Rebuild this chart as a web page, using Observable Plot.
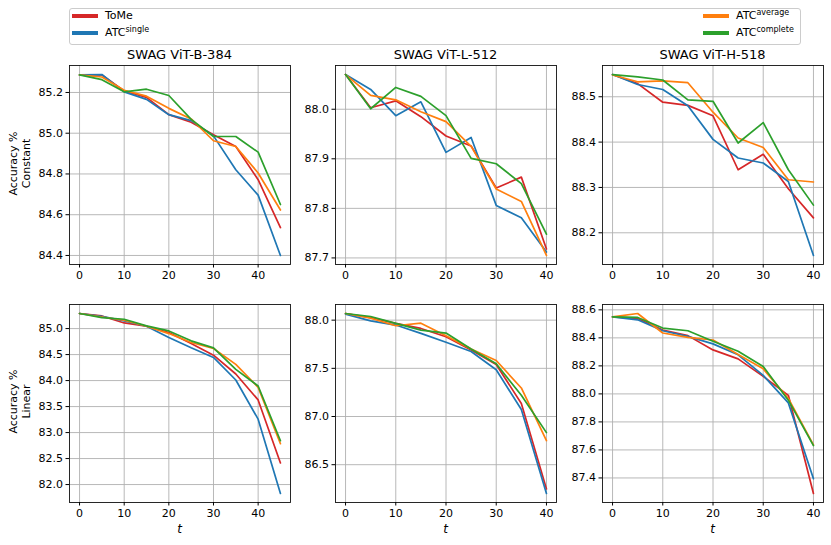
<!DOCTYPE html>
<html><head><meta charset="utf-8">
<script src="https://cdn.jsdelivr.net/npm/d3@7"></script>
<script src="https://cdn.jsdelivr.net/npm/@observablehq/plot@0.6"></script>
<style>
body{margin:0;background:#fff;font-family:"DejaVu Sans",sans-serif;color:#000}
#root{position:relative;width:831px;height:545px;overflow:hidden;background:#fff}
.abs{position:absolute}
.panel svg{max-width:none!important;background:transparent!important;overflow:visible}
.title{font-size:13px;text-align:center;white-space:nowrap;line-height:16px}
.ylab{font-size:11px;text-align:center;line-height:12.5px;white-space:nowrap}
.xlab{font-size:12px;font-style:italic;text-align:center;line-height:14px}
.leg{font-size:11px;line-height:14px;white-space:nowrap}
.leg sup{font-size:8px;vertical-align:0;position:relative;top:-4px}
.sw{height:3.5px}
</style></head><body><div id="root"></div>
<script>
const seriesNames = ["ToMe", "ATC single", "ATC average", "ATC complete"];
const seriesColors = ["#d62728", "#1f77b4", "#ff7f0e", "#2ca02c"];
const tB = [0, 5, 10, 15, 20, 25, 30, 35, 40, 45];
const tLH = [0, 5, 10, 15, 20, 25, 30, 35, 40];
const xTicks = [0, 10, 20, 30, 40];
const titles = ["SWAG ViT-B-384", "SWAG ViT-L-512", "SWAG ViT-H-518"];
const rowLabels = ["Constant", "Linear"];

// series order: ToMe, ATC single, ATC average, ATC complete
const b384Constant = [
  [85.286, 85.286, 85.208, 85.176, 85.091, 85.054, 84.992, 84.935, 84.772, 84.537],
  [85.286, 85.288, 85.203, 85.166, 85.091, 85.062, 84.987, 84.821, 84.696, 84.400],
  [85.286, 85.276, 85.211, 85.182, 85.122, 85.070, 84.963, 84.935, 84.805, 84.623],
  [85.286, 85.263, 85.203, 85.216, 85.185, 85.068, 84.984, 84.984, 84.907, 84.650]
];
const l512Constant = [
  [88.070, 88.003, 88.017, 87.985, 87.946, 87.926, 87.841, 87.863, 87.718],
  [88.070, 88.040, 87.987, 88.015, 87.913, 87.943, 87.806, 87.781, 87.712],
  [88.070, 88.028, 88.019, 87.995, 87.975, 87.925, 87.839, 87.814, 87.705],
  [88.070, 88.001, 88.044, 88.026, 87.987, 87.901, 87.890, 87.850, 87.748]
];
const h518Constant = [
  [88.549, 88.529, 88.488, 88.481, 88.458, 88.339, 88.373, 88.297, 88.233],
  [88.549, 88.527, 88.516, 88.480, 88.406, 88.365, 88.354, 88.313, 88.150],
  [88.548, 88.533, 88.535, 88.531, 88.466, 88.409, 88.388, 88.317, 88.312],
  [88.549, 88.544, 88.537, 88.493, 88.490, 88.398, 88.443, 88.339, 88.261]
];
const b384Linear = [
  [85.290, 85.243, 85.108, 85.045, 84.923, 84.713, 84.489, 84.126, 83.628, 82.415],
  [85.290, 85.236, 85.147, 85.045, 84.828, 84.630, 84.445, 84.011, 83.258, 81.828],
  [85.290, 85.223, 85.160, 85.045, 84.904, 84.732, 84.617, 84.311, 83.870, 82.786],
  [85.290, 85.211, 85.179, 85.051, 84.955, 84.764, 84.630, 84.215, 83.896, 82.843]
];
const l512Linear = [
  [88.069, 88.027, 87.966, 87.914, 87.828, 87.691, 87.540, 87.135, 86.249],
  [88.062, 87.993, 87.949, 87.863, 87.770, 87.674, 87.485, 87.073, 86.201],
  [88.069, 88.021, 87.942, 87.969, 87.839, 87.701, 87.581, 87.296, 86.750],
  [88.069, 88.038, 87.966, 87.897, 87.866, 87.701, 87.547, 87.221, 86.833]
];
const h518Linear = [
  [88.550, 88.539, 88.456, 88.416, 88.314, 88.250, 88.125, 87.990, 87.289],
  [88.550, 88.529, 88.451, 88.411, 88.357, 88.279, 88.132, 87.936, 87.395],
  [88.550, 88.574, 88.435, 88.404, 88.385, 88.281, 88.179, 87.967, 87.636],
  [88.550, 88.546, 88.470, 88.451, 88.376, 88.305, 88.196, 87.955, 87.631]
];
const yTicksB384Constant = [84.4, 84.6, 84.8, 85.0, 85.2];
const yTicksL512Constant = [87.7, 87.8, 87.9, 88.0];
const yTicksH518Constant = [88.2, 88.3, 88.4, 88.5];
const yTicksB384Linear = [82.0, 82.5, 83.0, 83.5, 84.0, 84.5, 85.0];
const yTicksL512Linear = [86.5, 87.0, 87.5, 88.0];
const yTicksH518Linear = [87.4, 87.6, 87.8, 88.0, 88.2, 88.4, 88.6];

const panels = [
  {row: 0, col: 0, t: tB, vals: b384Constant, yTicks: yTicksB384Constant},
  {row: 0, col: 1, t: tLH, vals: l512Constant, yTicks: yTicksL512Constant},
  {row: 0, col: 2, t: tLH, vals: h518Constant, yTicks: yTicksH518Constant},
  {row: 1, col: 0, t: tB, vals: b384Linear, yTicks: yTicksB384Linear},
  {row: 1, col: 1, t: tLH, vals: l512Linear, yTicks: yTicksL512Linear},
  {row: 1, col: 2, t: tLH, vals: h518Linear, yTicks: yTicksH518Linear}
];

const root = document.getElementById("root");
const frameLeft = [69, 335, 602];
const frameW = 221;
const frameTop = [65, 304];
const frameH = [199, 198];
const mL = 45, mR = 6, mT = 6, mB = 24;

function pad(ext) { const r = ext[1] - ext[0]; return [ext[0] - 0.05 * r, ext[1] + 0.05 * r]; }

for (const p of panels) {
  const rows = [];
  p.vals.forEach((arr, i) => arr.forEach((v, j) => rows.push({t: p.t[j], v, series: seriesNames[i]})));
  const xDom = pad(d3.extent(p.t));
  const yDom = pad(d3.extent(rows, d => d.v));
  const W = frameW + mL + mR, H = frameH[p.row] + mT + mB;
  const svg = Plot.plot({
    width: W, height: H, marginLeft: mL, marginRight: mR, marginTop: mT, marginBottom: mB,
    style: {fontFamily: "DejaVu Sans, sans-serif", fontSize: "11px", background: "transparent", overflow: "visible", color: "#000"},
    x: {domain: xDom},
    y: {domain: yDom},
    color: {domain: seriesNames, range: seriesColors},
    marks: [
      Plot.gridX(xTicks, {stroke: "#b0b0b0", strokeOpacity: 1, strokeWidth: 0.9}),
      Plot.gridY(p.yTicks, {stroke: "#b0b0b0", strokeOpacity: 1, strokeWidth: 0.9}),
      Plot.line(rows, {x: "t", y: "v", z: "series", stroke: "series", strokeWidth: 1.7}),
      Plot.frame({stroke: "#111", strokeWidth: 0.9}),
      Plot.axisX({ticks: xTicks, tickSize: 3.5, tickPadding: 3, label: null, tickFormat: d => String(d)}),
      Plot.axisY({ticks: p.yTicks, tickSize: 3.5, tickPadding: 3, label: null, tickFormat: d3.format(".1f")})
    ]
  });
  const div = document.createElement("div");
  div.className = "abs panel";
  div.style.left = (frameLeft[p.col] - mL) + "px";
  div.style.top = (frameTop[p.row] - mT) + "px";
  div.style.width = W + "px";
  div.style.height = H + "px";
  div.appendChild(svg);
  root.appendChild(div);
}

function addText(cls, html, left, top, width, height, extra) {
  const d = document.createElement("div");
  d.className = "abs " + cls;
  d.innerHTML = html;
  d.style.left = left + "px"; d.style.top = top + "px";
  if (width != null) d.style.width = width + "px";
  if (height != null) d.style.height = height + "px";
  if (extra) Object.assign(d.style, extra);
  root.appendChild(d);
  return d;
}

// titles
titles.forEach((t, c) => addText("title", t, frameLeft[c] - 20, 47, frameW + 40, 16));
// x labels
for (let c = 0; c < 3; c++) addText("xlab", "t", frameLeft[c], 522, frameW, 14);
// y labels
rowLabels.forEach((lab, r) => {
  const cy = frameTop[r] + frameH[r] / 2 - 1.5, cx = 20, w = 200, h = 25;
  addText("ylab", "Accuracy %<br>" + lab, cx - w / 2, cy - h / 2, w, h, {transform: "rotate(-90deg)"});
});

// legend
addText("", "", 69, 8, 732, 37, {border: "1px solid #cccccc", borderRadius: "3px", boxSizing: "border-box", background: "rgba(255,255,255,0.8)"});
const legendItems = [
  {i: 0, x: 72, y: 16, label: "ToMe"},
  {i: 1, x: 72, y: 33, label: "ATC<sup>single</sup>"},
  {i: 2, x: 703, y: 16, label: "ATC<sup>average</sup>"},
  {i: 3, x: 703, y: 33, label: "ATC<sup>complete</sup>"}
];
for (const it of legendItems) {
  addText("sw", "", it.x, it.y - 1.75, 26, 3.5, {background: seriesColors[it.i]});
  addText("leg", it.label, it.x + 33, it.y - 7, null, 14);
}
</script></body></html>
